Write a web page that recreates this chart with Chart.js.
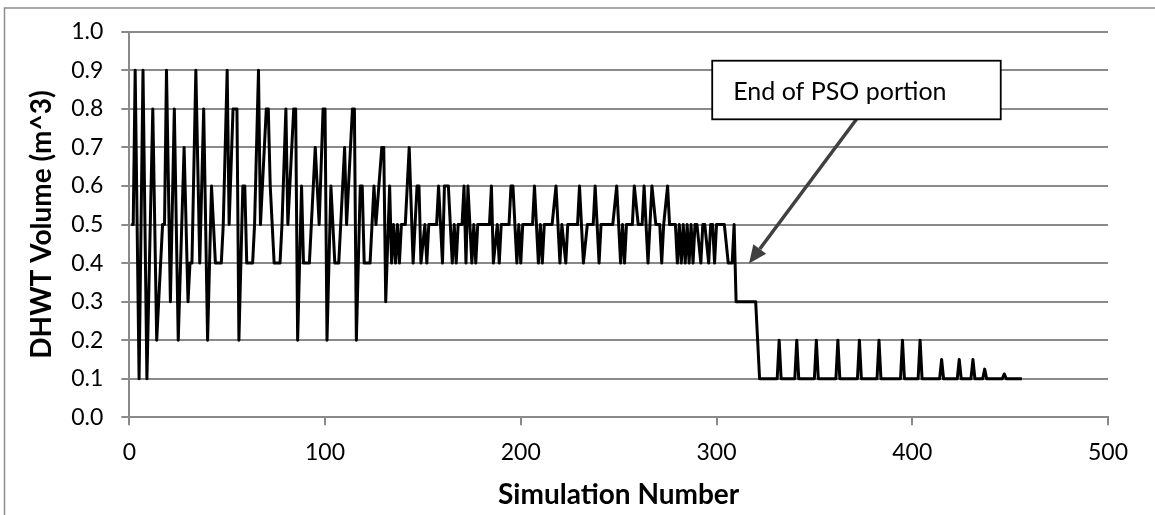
<!DOCTYPE html>
<html>
<head>
<meta charset="utf-8">
<title>DHWT Volume vs Simulation Number</title>
<script src="https://cdn.jsdelivr.net/npm/chart.js@4.4.1/dist/chart.umd.min.js"></script>
<style>
  html, body { margin: 0; padding: 0; background: #ffffff; }
  #wrap { width: 1155px; height: 515px; }
</style>
</head>
<body>
<div id="wrap"><canvas id="dhwtChart" width="1155" height="515"></canvas></div>
<script>
// turning points of the trace (simulation number, volume m^3)
const simNumbers = [
  1, 2, 3, 5, 7, 9, 12, 14, 17, 18, 19, 21, 23, 25, 28, 30, 31, 32, 34, 36,
  38, 40, 42, 44, 47, 48, 50, 51, 53, 55, 56, 58, 59, 60, 63, 64, 66, 67, 70, 71,
  72, 73, 74, 77, 78, 80, 81, 84, 85, 86, 88, 89, 92, 93, 95, 97, 99, 100, 101, 103,
  105, 107, 108, 110, 111, 114, 115, 116, 118, 119, 120, 123, 125, 126, 129, 130, 131, 133, 134, 135,
  136, 137, 138, 139, 141, 143, 145, 147, 148, 149, 151, 152, 153, 157, 158, 160, 161, 163, 165, 166,
  167, 168, 170, 171, 172, 173, 175, 176, 177, 178, 184, 185, 186, 188, 189, 190, 194, 195, 196, 198,
  199, 200, 201, 206, 207, 209, 210, 211, 212, 216, 218, 220, 221, 223, 224, 229, 230, 232, 234, 237,
  238, 240, 241, 247, 249, 251, 252, 253, 254, 257, 258, 260, 262, 263, 265, 267, 269, 271, 272, 273,
  275, 276, 279, 280, 281, 282, 283, 284, 285, 286, 287, 288, 289, 290, 292, 293, 294, 296, 297, 298,
  299, 300, 304, 306, 308, 309, 310, 320, 321, 322, 331, 332, 333, 340, 341, 342, 350, 351, 352, 361,
  362, 363, 372, 373, 374, 382, 383, 384, 394, 395, 396, 403, 404, 405, 414, 415, 416, 423, 424, 425,
  430, 431, 432, 436, 437, 438, 446, 447, 448, 456
];
const dhwtVolumes = [
  0.5, 0.5, 0.9, 0.1, 0.9, 0.1, 0.8, 0.2, 0.5, 0.5, 0.9, 0.3, 0.8, 0.2, 0.7, 0.3, 0.4, 0.4, 0.9, 0.4,
  0.8, 0.2, 0.6, 0.4, 0.4, 0.5, 0.9, 0.5, 0.8, 0.8, 0.2, 0.6, 0.6, 0.4, 0.4, 0.5, 0.9, 0.5, 0.8, 0.8,
  0.6, 0.5, 0.4, 0.4, 0.5, 0.8, 0.5, 0.8, 0.8, 0.2, 0.6, 0.4, 0.4, 0.5, 0.7, 0.5, 0.8, 0.8, 0.2, 0.6,
  0.4, 0.4, 0.5, 0.7, 0.5, 0.8, 0.8, 0.2, 0.6, 0.6, 0.4, 0.4, 0.6, 0.5, 0.7, 0.7, 0.3, 0.6, 0.4, 0.5,
  0.4, 0.5, 0.4, 0.5, 0.5, 0.7, 0.4, 0.6, 0.6, 0.4, 0.5, 0.4, 0.5, 0.5, 0.6, 0.4, 0.6, 0.6, 0.4, 0.5,
  0.4, 0.5, 0.5, 0.6, 0.4, 0.6, 0.4, 0.5, 0.4, 0.5, 0.5, 0.6, 0.4, 0.5, 0.4, 0.5, 0.5, 0.6, 0.6, 0.4,
  0.5, 0.4, 0.5, 0.5, 0.6, 0.4, 0.5, 0.4, 0.5, 0.5, 0.6, 0.4, 0.5, 0.4, 0.5, 0.5, 0.6, 0.4, 0.5, 0.5,
  0.6, 0.4, 0.5, 0.5, 0.6, 0.4, 0.5, 0.4, 0.5, 0.5, 0.6, 0.5, 0.5, 0.6, 0.4, 0.6, 0.5, 0.5, 0.4, 0.5,
  0.6, 0.5, 0.5, 0.4, 0.5, 0.4, 0.5, 0.4, 0.5, 0.4, 0.5, 0.4, 0.5, 0.5, 0.4, 0.5, 0.5, 0.4, 0.5, 0.5,
  0.4, 0.5, 0.5, 0.4, 0.4, 0.5, 0.3, 0.3, 0.2, 0.1, 0.1, 0.2, 0.1, 0.1, 0.2, 0.1, 0.1, 0.2, 0.1, 0.1,
  0.2, 0.1, 0.1, 0.2, 0.1, 0.1, 0.2, 0.1, 0.1, 0.2, 0.1, 0.1, 0.2, 0.1, 0.1, 0.15, 0.1, 0.1, 0.15, 0.1,
  0.1, 0.15, 0.1, 0.1, 0.125, 0.1, 0.1, 0.1125, 0.1, 0.1
];

const xTickValues = [0, 100, 200, 300, 400, 500];
const yTickValues = [0, 0.1, 0.2, 0.3, 0.4, 0.5, 0.6, 0.7, 0.8, 0.9, 1.0];

// callout text box and arrow, in data units
const note = {
  text: 'End of PSO portion',
  boxLeft: 297.8, boxRight: 445.2, boxTop: 0.925, boxBottom: 0.773,
  arrowFrom: { x: 371.5, y: 0.773 },
  arrowTo: { x: 316.6, y: 0.399 }
};

const gridGrey = '#8a8a8a';

// grey frame of the chart area (right and bottom edges fall outside the picture)
const framePlugin = {
  id: 'frame',
  beforeDraw(chart) {
    const ctx = chart.ctx;
    ctx.save();
    ctx.fillStyle = '#ffffff';
    ctx.fillRect(0, 0, chart.width, chart.height);
    ctx.strokeStyle = '#8c8c8c';
    ctx.lineWidth = 1.5;
    ctx.strokeRect(4.5, 8, chart.width + 50, chart.height + 50);
    ctx.restore();
  }
};

// "End of PSO portion" box with its arrow
const calloutPlugin = {
  id: 'callout',
  afterDraw(chart) {
    const { ctx } = chart;
    const xs = chart.scales.x, ys = chart.scales.y;
    const fx = xs.getPixelForValue(note.arrowFrom.x), fy = ys.getPixelForValue(note.arrowFrom.y);
    const tx = xs.getPixelForValue(note.arrowTo.x), ty = ys.getPixelForValue(note.arrowTo.y);
    const ang = Math.atan2(ty - fy, tx - fx);
    const head = 18, half = 8;
    const bx = tx - head * Math.cos(ang), by = ty - head * Math.sin(ang);

    ctx.save();
    ctx.strokeStyle = '#404040';
    ctx.fillStyle = '#404040';
    ctx.lineWidth = 3.5;
    ctx.beginPath();
    ctx.moveTo(fx, fy);
    ctx.lineTo(bx, by);
    ctx.stroke();
    ctx.beginPath();
    ctx.moveTo(tx, ty);
    ctx.lineTo(bx + half * Math.sin(ang), by - half * Math.cos(ang));
    ctx.lineTo(bx - half * Math.sin(ang), by + half * Math.cos(ang));
    ctx.closePath();
    ctx.fill();

    const left = xs.getPixelForValue(note.boxLeft), right = xs.getPixelForValue(note.boxRight);
    const top = ys.getPixelForValue(note.boxTop), bottom = ys.getPixelForValue(note.boxBottom);
    ctx.fillStyle = '#ffffff';
    ctx.fillRect(left, top, right - left, bottom - top);
    ctx.strokeStyle = '#000000';
    ctx.lineWidth = 1.8;
    ctx.strokeRect(left, top, right - left, bottom - top);

    ctx.fillStyle = '#000000';
    ctx.font = '25px Lato';
    ctx.textAlign = 'left';
    ctx.textBaseline = 'alphabetic';
    ctx.fillText(note.text, left + 21, top + 39);
    ctx.restore();
  }
};

const ctx = document.getElementById('dhwtChart').getContext('2d');
Chart.defaults.font.family = 'Lato';
Chart.defaults.color = '#000000';

new Chart(ctx, {
  type: 'line',
  data: {
    datasets: [{
      label: 'DHWT Volume',
      data: simNumbers.map((n, i) => ({ x: n, y: dhwtVolumes[i] })),
      borderColor: '#000000',
      borderWidth: 3,
      borderJoinStyle: 'round',
      pointRadius: 0,
      tension: 0,
      fill: false
    }]
  },
  options: {
    responsive: false,
    animation: false,
    events: [],
    layout: { padding: { left: 0, top: 31.7, right: 47, bottom: 0 } },
    plugins: {
      legend: { display: false },
      tooltip: { enabled: false }
    },
    scales: {
      x: {
        type: 'linear',
        min: 0,
        max: 500,
        afterBuildTicks: s => { s.ticks = xTickValues.map(v => ({ value: v })); },
        afterFit: s => { s.height = 97.7; },
        ticks: { font: { size: 23 }, padding: 13, maxRotation: 0 },
        grid: { drawOnChartArea: false, drawTicks: true, tickLength: 8, color: gridGrey, lineWidth: 2 },
        border: { display: true, color: gridGrey, width: 2 },
        title: {
          display: true,
          text: 'Simulation Number',
          font: { size: 28, weight: 'bold' },
          padding: { top: 0, bottom: 3 }
        }
      },
      y: {
        min: 0,
        max: 1,
        afterBuildTicks: s => { s.ticks = yTickValues.map(v => ({ value: v })); },
        afterFit: s => { s.width = 129.3; },
        ticks: { font: { size: 23 }, padding: 18, callback: v => v.toFixed(1) },
        grid: { drawTicks: true, tickLength: 8, color: gridGrey, lineWidth: 2 },
        border: { display: true, color: gridGrey, width: 2 },
        title: {
          display: true,
          text: 'DHWT Volume (m^3)',
          font: { size: 28, weight: 'bold' },
          padding: { top: 25, bottom: 0 }
        }
      }
    }
  },
  plugins: [framePlugin, calloutPlugin]
});
</script>
</body>
</html>
